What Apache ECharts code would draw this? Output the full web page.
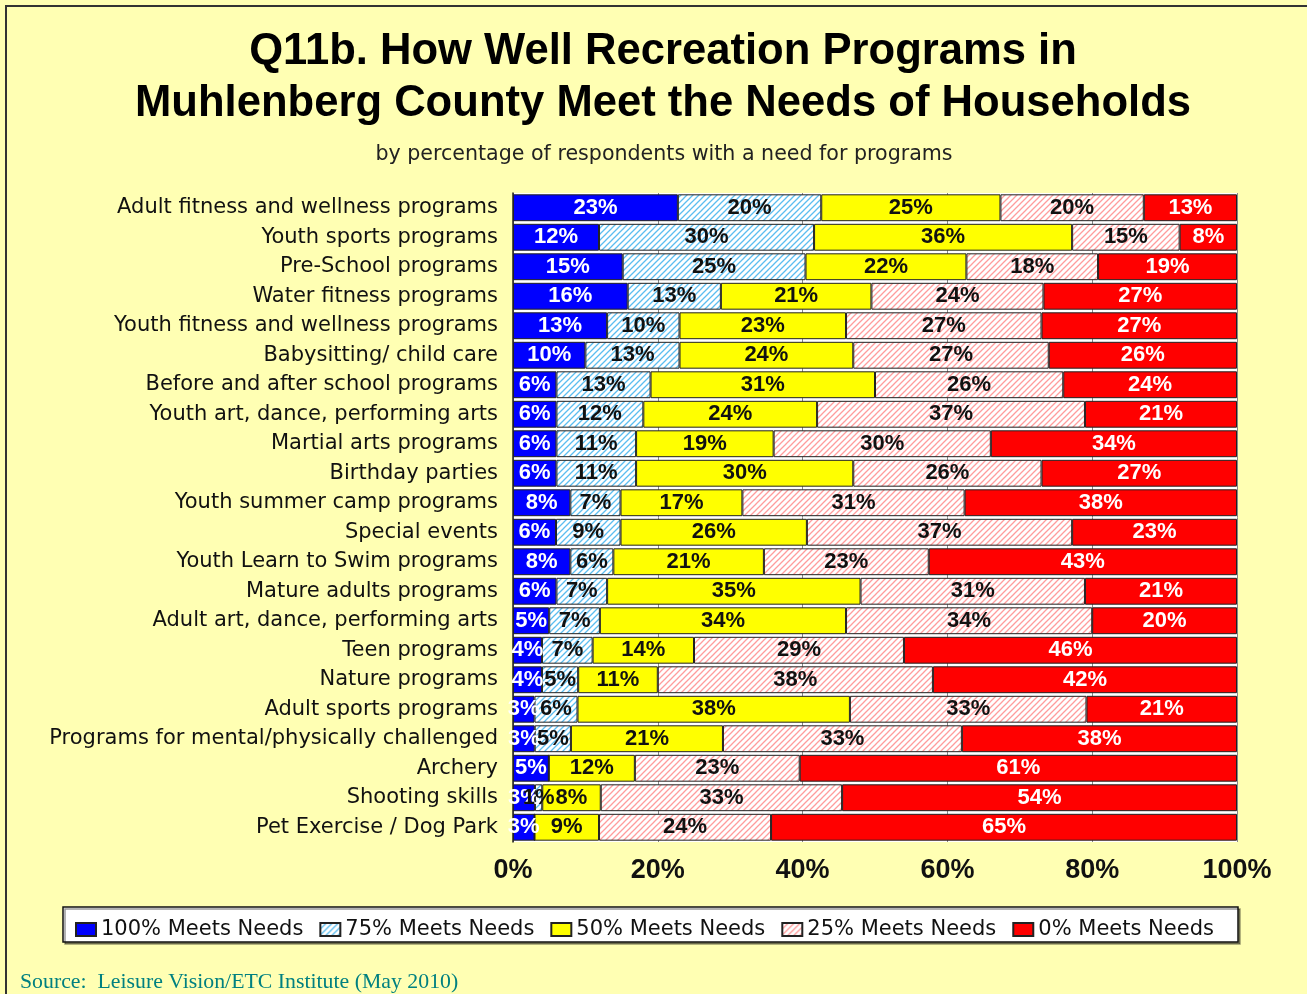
<!DOCTYPE html>
<html>
<head>
<meta charset="utf-8">
<script src="https://cdn.jsdelivr.net/npm/echarts@6/dist/echarts.min.js"></script>
<style>
  html, body { margin: 0; padding: 0; background: #FFFFB3; }
  #main { width: 1307px; height: 994px; }
</style>
</head>
<body>
<div id="main"></div>
<script>
// programs, top to bottom
var programs = [
    'Adult fitness and wellness programs',
    'Youth sports programs',
    'Pre-School programs',
    'Water fitness programs',
    'Youth fitness and wellness programs',
    'Babysitting/ child care',
    'Before and after school programs',
    'Youth art, dance, performing arts',
    'Martial arts programs',
    'Birthday parties',
    'Youth summer camp programs',
    'Special events',
    'Youth Learn to Swim programs',
    'Mature adults programs',
    'Adult art, dance, performing arts',
    'Teen programs',
    'Nature programs',
    'Adult sports programs',
    'Programs for mental/physically challenged',
    'Archery',
    'Shooting skills',
    'Pet Exercise / Dog Park'
]
var meets100 = [23, 12, 15, 16, 13, 10, 6, 6, 6, 6, 8, 6, 8, 6, 5, 4, 4, 3, 3, 5, 3, 3]
var meets75 = [20, 30, 25, 13, 10, 13, 13, 12, 11, 11, 7, 9, 6, 7, 7, 7, 5, 6, 5, 0, 1, 0]
var meets50 = [25, 36, 22, 21, 23, 24, 31, 24, 19, 30, 17, 26, 21, 35, 34, 14, 11, 38, 21, 12, 8, 9]
var meets25 = [20, 15, 18, 24, 27, 27, 26, 37, 30, 26, 31, 37, 23, 31, 34, 29, 38, 33, 33, 23, 33, 24]
var meets0 = [13, 8, 19, 27, 27, 26, 24, 21, 34, 27, 38, 23, 43, 21, 20, 46, 42, 21, 38, 61, 54, 65]
var seriesNames = ['100% Meets Needs', '75% Meets Needs', '50% Meets Needs', '25% Meets Needs', '0% Meets Needs']
var tickLabels = ['0%', '20%', '40%', '60%', '80%', '100%']

// diagonal hatch fill
function hatch(lineColor) {
    var c = document.createElement('canvas')
    c.width = 6
    c.height = 6
    var ctx = c.getContext('2d')
    ctx.fillStyle = '#fff'
    ctx.fillRect(0, 0, 6, 6)
    ctx.strokeStyle = lineColor
    ctx.lineWidth = 1.3
    ctx.beginPath()
    ctx.moveTo(-1, 7); ctx.lineTo(7, -1)
    ctx.moveTo(-4, 4); ctx.lineTo(4, -4)
    ctx.moveTo(2, 10); ctx.lineTo(10, 2)
    ctx.stroke()
    return { image: c, repeat: 'repeat' }
}

var fills = ['#0000FF', hatch('#5BBDF0'), '#FFFF00', hatch('#FF9C9C'), '#FF0000']
var labelColors = ['#fff', '#111', '#111', '#111', '#fff']
var allData = [meets100, meets75, meets50, meets25, meets0]

// 100% stacked: each row is scaled to its own total, labels keep the read value
var rowTotals = programs.map(function (p, r) {
    var s = 0
    allData.forEach(function (arr) { s += arr[r] })
    return s
})

var chart = echarts.init(document.getElementById('main'))

var series = []
for (var i = 0; i < 5; i++) {
    series.push({
        name: seriesNames[i],
        type: 'bar',
        stack: 'total',
        barCategoryGap: '9%',
        data: allData[i].map(function (v, r) {
            return { value: v * 100 / rowTotals[r], raw: v }
        }),
        itemStyle: {
            color: fills[i],
            borderColor: '#222',
            borderWidth: 1
        },
        label: {
            show: true,
            position: 'inside',
            color: labelColors[i],
            fontFamily: 'Liberation Sans',
            fontWeight: 'bold',
            fontSize: 22,
            formatter: function (p) {
                return p.data.raw > 0 ? p.data.raw + '%' : ''
            }
        },
        animation: false
    })
}

var option = {
    backgroundColor: '#FFFFB3',
    title: [{
        text: 'Q11b. How Well Recreation Programs in\nMuhlenberg County Meet the Needs of Households',
        left: 658,
        textAlign: 'center',
        top: 21,
        textStyle: {
            fontFamily: 'Liberation Sans',
            fontWeight: 'bold',
            fontSize: 43.6,
            lineHeight: 52,
            color: '#000'
        }
    }, {
        text: 'by percentage of respondents with a need for programs',
        left: 659,
        textAlign: 'center',
        top: 139,
        textStyle: {
            fontFamily: 'DejaVu Sans',
            fontWeight: 'normal',
            fontSize: 20.6,
            color: '#222'
        }
    }],
    legend: {
        data: seriesNames,
        icon: 'rect',
        left: 70,
        top: 914,
        itemWidth: 20,
        itemHeight: 13,
        itemGap: 16,
        textStyle: {
            fontFamily: 'DejaVu Sans',
            fontSize: 21,
            color: '#111'
        }
    },
    graphic: [{
        type: 'rect',
        shape: { x: 6, y: 6, width: 1320, height: 1000 },
        style: { fill: 'none', stroke: '#333', lineWidth: 2 },
        z: 0
    }, {
        type: 'rect',
        shape: { x: 63, y: 907, width: 1175, height: 35 },
        style: { fill: '#fff', stroke: '#111', lineWidth: 1.5, shadowColor: 'rgba(0,0,0,0.4)', shadowOffsetX: 2, shadowOffsetY: 2 },
        z: 0
    }, {
        type: 'text',
        left: 20,
        top: 971,
        style: {
            text: 'Source:  Leisure Vision/ETC Institute (May 2010)',
            fill: '#008080',
            font: '21.8px "Liberation Serif"'
        },
        z: 0
    }],
    grid: {
        left: 513,
        right: 70,
        top: 193,
        bottom: 152,
        show: true,
        backgroundColor: '#fff',
        borderWidth: 0
    },
    xAxis: {
        type: 'value',
        min: 0,
        max: 100,
        interval: 20,
        axisLine: { show: false },
        axisTick: { show: false },
        splitLine: { show: true, lineStyle: { color: '#888', width: 1 } },
        axisLabel: {
            margin: 15,
            fontFamily: 'Liberation Sans',
            fontWeight: 'bold',
            fontSize: 27,
            color: '#111',
            formatter: function (v) { return tickLabels[v / 20] }
        }
    },
    yAxis: {
        type: 'category',
        data: programs,
        inverse: true,
        axisLine: { show: true, lineStyle: { color: '#222', width: 1.5 } },
        axisTick: { show: false },
        axisLabel: {
            margin: 15,
            fontFamily: 'DejaVu Sans',
            fontSize: 21,
            color: '#111'
        }
    },
    series: series
}

option && chart.setOption(option)
</script>
</body>
</html>
